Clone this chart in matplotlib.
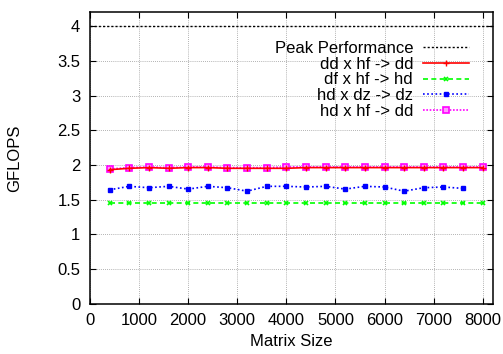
import matplotlib
matplotlib.use('Agg')
import matplotlib.pyplot as plt

plt.rcParams['font.family'] = ['Liberation Sans', 'DejaVu Sans']

# data
sizes = list(range(400, 8001, 400))
peak = 4.0
dd_hf_dd = [1.93, 1.95, 1.96, 1.95, 1.96, 1.96, 1.95, 1.95, 1.95, 1.95,
            1.96, 1.96, 1.96, 1.96, 1.96, 1.96, 1.96, 1.96, 1.96, 1.96]
df_hf_hd = [1.45, 1.45, 1.45, 1.45, 1.45, 1.45, 1.45, 1.45, 1.45, 1.45,
            1.45, 1.45, 1.45, 1.45, 1.45, 1.45, 1.45, 1.45, 1.45, 1.45]
hd_dz_dz = [1.64, 1.69, 1.67, 1.69, 1.65, 1.69, 1.67, 1.62, 1.69, 1.69,
            1.68, 1.69, 1.65, 1.69, 1.68, 1.62, 1.67, 1.68, 1.66]
hd_hf_dd = [1.94, 1.96, 1.97, 1.96, 1.97, 1.97, 1.96, 1.96, 1.96, 1.97,
            1.97, 1.97, 1.97, 1.97, 1.97, 1.97, 1.97, 1.97, 1.97, 1.97]

fig = plt.figure(figsize=(5.03, 3.54), dpi=100)
ax = fig.add_axes([90/503, 1 - 303.5/354, (492.5-90)/503, (303.5-12.3)/354])

ax.axhline(peak, color='black', ls=(0, (1.5, 1.5)), lw=1.0, label='Peak Performance')
ax.plot(sizes, dd_hf_dd, color='#ff0000', lw=1.2, marker='+', ms=4, mew=1.0,
        label='dd x hf -> dd', zorder=4)
ax.plot(sizes, df_hf_hd, color='#00ff00', lw=1.2, ls=(0, (3, 2)), marker='x', ms=3.5,
        mew=1.2, label='df x hf -> hd')
ax.plot(sizes[:len(hd_dz_dz)], hd_dz_dz, color='#0000ff', lw=1.2, ls=(0, (1, 1.5)),
        marker='s', ms=3.5, label='hd x dz -> dz')
ax.plot(sizes, hd_hf_dd, color='#ff00ff', lw=1.2, ls=(0, (1, 1)), marker='s', ms=5,
        mfc='#ff99ff', mec='#ff00ff', mew=1.2, label='hd x hf -> dd', zorder=3)

ax.set_xlim(0, 8200)
ax.set_ylim(0, 4.2)
ax.set_xticks(range(0, 8001, 1000))
ax.set_yticks([0, 0.5, 1, 1.5, 2, 2.5, 3, 3.5, 4])
ax.set_yticklabels(['0', '0.5', '1', '1.5', '2', '2.5', '3', '3.5', '4'])
ax.grid(True, color='#999999', ls=(0, (1, 1.5)), lw=0.6)
ax.tick_params(direction='in', top=True, right=True, length=4, labelsize=12, pad=7)
for s in ax.spines.values():
    s.set_linewidth(1.1)

ax.set_xlabel('Matrix Size', fontsize=12, labelpad=4)
ax.set_ylabel('GFLOPS', fontsize=12, labelpad=25)

ax.legend(loc='upper right', bbox_to_anchor=(0.958, 0.925), frameon=False, markerfirst=False,
          fontsize=12, handlelength=2.75, labelspacing=0.05, handletextpad=0.6,
          borderaxespad=0)

plt.savefig('out.png', dpi=100, facecolor='white')
